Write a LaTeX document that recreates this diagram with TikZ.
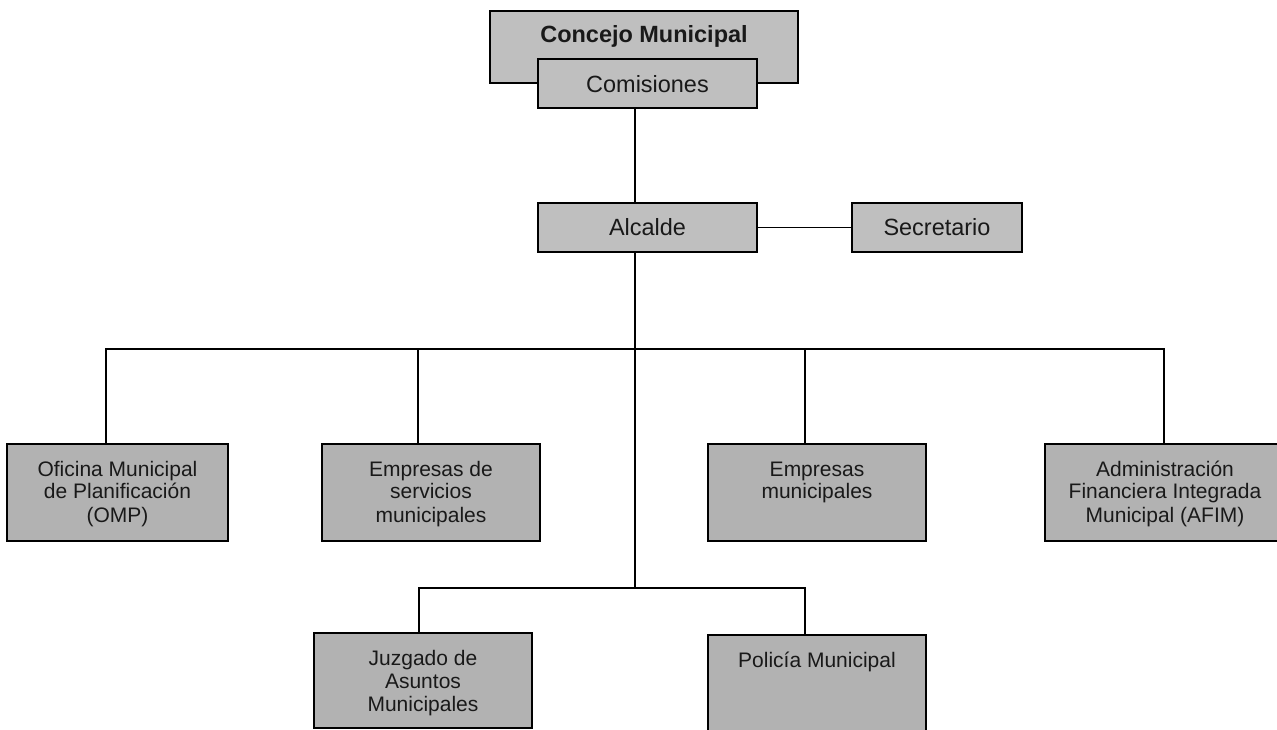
\documentclass[tikz,border=0pt]{standalone}
\usepackage{fontspec}
\setmainfont{Liberation Sans}
\usetikzlibrary{calc}
\definecolor{topfill}{gray}{0.75}
\definecolor{unitfill}{gray}{0.70}
% box content: width, height, first-baseline depth, text (top aligned, centred)
\newcommand{\boxtext}[4]{\parbox[c][#2][t]{#1}{\centering\rule{0pt}{#3}#4\par}}
\begin{document}
\begin{tikzpicture}[x=0.75pt,y=-0.75pt,
  unit/.style={draw=black, line width=1.3pt, fill=unitfill, inner sep=0pt,
    text=black!90, font=\fontsize{15.75}{17.25}\selectfont},
  head/.style={unit, fill=topfill, font=\fontsize{17.6}{20}\selectfont},
  link/.style={line width=1pt, draw=black}]
\clip (0,0) rectangle (1277,730);
\fill[white] (0,0) rectangle (1277,730);

% council and its commissions
\node[head] (concejo) at (644,47)
  {\boxtext{231pt}{54pt}{24pt}{\bfseries Concejo Municipal}};
\node[head] (comisiones) at (647.5,83.5)
  {\boxtext{164.25pt}{36.75pt}{25.5pt}{Comisiones}};

% mayor and secretary
\node[head] (alcalde) at (647.5,227.5)
  {\boxtext{164.25pt}{36.75pt}{24.75pt}{Alcalde}};
\node[head] (secretario) at (937,227.5)
  {\boxtext{127.5pt}{36.75pt}{24.75pt}{Secretario}};

% first level of units
\node[unit] (omp) at (117.5,492.5)
  {\boxtext{165.75pt}{72.75pt}{24pt}{Oficina Municipal\\de Planificación\\(OMP)}};
\node[unit] (emps) at (431,492.5)
  {\boxtext{163.5pt}{72.75pt}{24pt}{Empresas de\\servicios\\municipales}};
\node[unit] (empm) at (817,492.5)
  {\boxtext{163.5pt}{72.75pt}{24pt}{Empresas\\municipales}};
\node[unit] (afim) at (1165,492.5)
  {\boxtext{180pt}{72.75pt}{24pt}{Administración\\Financiera Integrada\\Municipal (AFIM)}};

% second level of units
\node[unit] (juzgado) at (423,680.5)
  {\boxtext{163.5pt}{71.25pt}{24.5pt}{Juzgado de\\Asuntos\\Municipales}};
\node[unit] (policia) at (817,685)
  {\boxtext{163.5pt}{75pt}{24pt}{Policía Municipal}};

% connectors
\coordinate (bar) at (635,349);
\coordinate (split) at (635,588);
\coordinate (d1) at ([xshift=-8.6pt]omp.north);
\coordinate (d2) at ([xshift=-9.75pt]emps.north);
\coordinate (d3) at ([xshift=-9pt]empm.north);
\coordinate (d4) at ([xshift=-0.75pt]afim.north);
\coordinate (d5) at ([xshift=-3pt]juzgado.north);
\coordinate (d6) at ([xshift=-9pt]policia.north);

\draw[link] (comisiones.south -| bar) -- (alcalde.north -| bar);
\draw[link] (alcalde.east) -- (secretario.west);
\draw[link] (alcalde.south -| bar) -- (split);
\draw[link] (d1) |- (bar) -| (d4);
\draw[link] (d2) -- (d2 |- bar);
\draw[link] (d3) -- (d3 |- bar);
\draw[link] (d5) |- (split) -| (d6);
\end{tikzpicture}
\end{document}
